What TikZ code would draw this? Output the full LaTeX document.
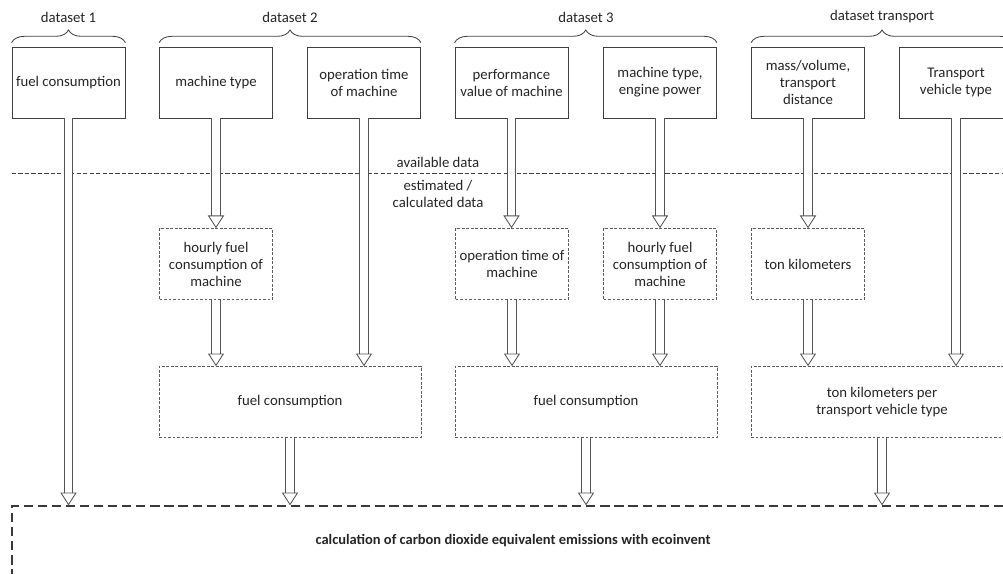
\documentclass[tikz,border=0pt]{standalone}
\usepackage{fontspec}
\setmainfont{Carlito}
\usetikzlibrary{arrows.meta,decorations.pathreplacing}
\definecolor{Ink}{HTML}{404040}
\definecolor{TextInk}{HTML}{262626}
\newlength\pxu
\setlength\pxu{0.025cm}

\begin{document}
\begin{tikzpicture}[x=0.025cm,y=-0.025cm,font=\fontsize{10.5}{12.1}\selectfont,text=TextInk]
    \tikzset{
      given/.style={draw=Ink,line width=0.6pt,minimum width=113\pxu,minimum height=71\pxu,
                    align=center,inner sep=1pt},
      derived/.style={given,draw=Ink!85,line width=0.5pt,dash pattern=on 2pt off 1.2pt},
      wide/.style={derived,minimum width=262\pxu},
      result/.style={draw=Ink!90!black,line width=1pt,dash pattern=on 6.5pt off 3.5pt,
                     minimum width=1002\pxu,minimum height=70\pxu,font=\fontsize{10.3}{12}\selectfont\bfseries},
      group/.style={decorate,decoration={brace,amplitude=9pt},draw=Ink,line width=0.6pt},
      flow/.style={draw=Ink!90,line width=0.6pt,double=white,double distance=5.4pt,
                   -{Triangle[open,length=9pt,width=11.5pt,line width=0.6pt]}},
      divider/.style={draw=Ink,line width=0.6pt,dash pattern=on 3pt off 1.6pt}
    }
    \useasboundingbox (0,0) rectangle (1003,573);
    \clip (0,0) rectangle (1003,573);
    % available data
    \node[given] (fuel) at (68.5,82.5) {fuel consumption};
    \node[given] (mtype) at (216,82.5) {machine type};
    \node[given] (optime) at (364,82.5) {operation time\\of machine};
    \node[given] (perf) at (511.5,82.5) {performance\\value of machine};
    \node[given] (power) at (660,82.5) {machine type,\\engine power};
    \node[given] (mass) at (808,82.5) {mass/volume,\\transport\\distance};
    \node[given] (vehicle) at (956,82.5) {Transport\\vehicle type};
    % data sets
    \draw[group] ([yshift=2.8pt]fuel.north west) -- ([yshift=2.8pt]fuel.north east);
    \draw[group] ([yshift=2.8pt]mtype.north west) -- ([yshift=2.8pt]optime.north east);
    \draw[group] ([yshift=2.8pt]perf.north west) -- ([yshift=2.8pt]power.north east);
    \draw[group] ([yshift=2.8pt]mass.north west) -- ([yshift=2.8pt]vehicle.north east);
    \node (set1) at (68.5,17) {dataset 1};
    \node (set2) at (290,17) {dataset 2};
    \node (set3) at (586,17) {dataset 3};
    \node (settr) at (882,17) {dataset transport};
    % border between given and estimated data
    \coordinate (divL) at (12,173);
    \coordinate (divR) at (1003,173);
    \draw[divider] (divL) -- (divR);
    \node (avail) at (438,162) {available data};
    \node[align=center] (estim) at (438,193.5) {estimated /\\calculated data};
    % estimated data
    \node[derived] (hourly) at (216,264) {hourly fuel\\consumption of\\machine};
    \node[derived] (optcalc) at (512,264) {operation time of\\machine};
    \node[derived] (hourly2) at (660,264) {hourly fuel\\consumption of\\machine};
    \node[derived] (tonkm) at (808,264) {ton kilometers};
    \node[wide] (fuelA) at (290,402) {fuel consumption};
    \node[wide] (fuelB) at (586,402) {fuel consumption};
    \node[wide] (tkmveh) at (882,402) {ton kilometers per\\transport vehicle type};
    \node[result] (co2) at (513,541) {calculation of carbon dioxide equivalent emissions with ecoinvent};
    % arrows
    \draw[flow] (mtype) -- (hourly);
    \draw[flow] (perf.south) -- (perf.south |- optcalc.north);
    \draw[flow] (power) -- (hourly2);
    \draw[flow] (mass) -- (tonkm);
    \draw[flow] (optime) -- (optime |- fuelA.north);
    \draw[flow] (hourly) -- (hourly |- fuelA.north);
    \draw[flow] (optcalc.south) -- (optcalc.south |- fuelB.north);
    \draw[flow] (hourly2) -- (hourly2 |- fuelB.north);
    \draw[flow] (tonkm) -- (tonkm |- tkmveh.north);
    \draw[flow] (vehicle) -- (vehicle |- tkmveh.north);
    \draw[flow] (fuel) -- (fuel |- co2.north);
    \draw[flow] (fuelA) -- (fuelA |- co2.north);
    \draw[flow] (fuelB) -- (fuelB |- co2.north);
    \draw[flow] (tkmveh) -- (tkmveh |- co2.north);
\end{tikzpicture}
\end{document}
